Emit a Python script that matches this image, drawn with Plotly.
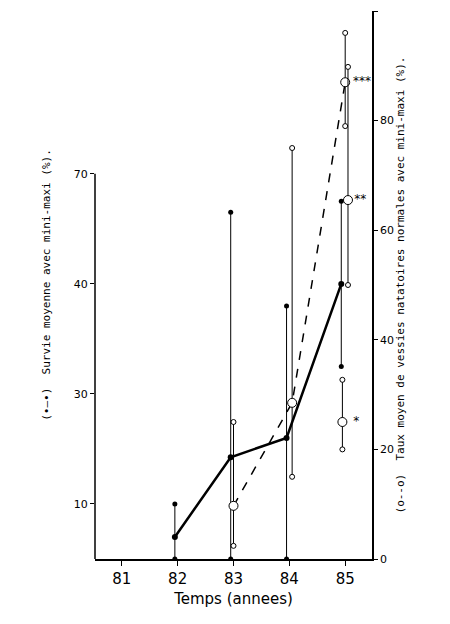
import plotly.graph_objects as go

# survival (left axis, filled points)
surv_x = [81.95, 82.95, 83.95, 84.93]
surv_mean = [4, 18.5, 22, 50]
surv_min = [0, 0, 0, 35]
surv_max = [10, 63, 46, 65]

# normal swim bladders (right axis, open points)
vess_x = [83.0, 84.05, 85.0]
vess_mean = [9.7, 28.5, 87]
vess_min = [2.4, 15, 79]
vess_max = [25, 75, 96]
# extra 85 groups
extra_x = [85.05, 84.95]
extra_mean = [65.5, 25]
extra_min = [50, 20]
extra_max = [89.8, 32.7]
extra_stars = ['**', '*']

x_ticks = [81, 82, 83, 84, 85]
left_ticks = [10, 30, 50, 70]
left_labels = ['10', '30', '40', '70']
right_ticks = [0, 20, 40, 60, 80, 100]

fig = go.Figure()
fig.add_trace(go.Scatter(
    x=surv_x, y=surv_mean, mode='lines+markers',
    line=dict(color='black', width=2.5),
    marker=dict(color='black', size=6),
    error_y=dict(type='data', symmetric=False,
                 array=[a - m for a, m in zip(surv_max, surv_mean)],
                 arrayminus=[m - b for m, b in zip(surv_mean, surv_min)],
                 color='black', thickness=1, width=0),
))
fig.add_trace(go.Scatter(
    x=surv_x + surv_x, y=surv_min + surv_max, mode='markers',
    marker=dict(color='black', size=5),
))
fig.add_trace(go.Scatter(
    x=vess_x, y=vess_mean, mode='lines+markers', yaxis='y2',
    line=dict(color='black', width=1.5, dash='dash'),
    marker=dict(color='white', size=9, line=dict(color='black', width=1)),
    error_y=dict(type='data', symmetric=False,
                 array=[a - m for a, m in zip(vess_max, vess_mean)],
                 arrayminus=[m - b for m, b in zip(vess_mean, vess_min)],
                 color='black', thickness=1, width=0),
))
fig.add_trace(go.Scatter(
    x=extra_x, y=extra_mean, mode='markers', yaxis='y2',
    marker=dict(color='white', size=9, line=dict(color='black', width=1)),
    error_y=dict(type='data', symmetric=False,
                 array=[a - m for a, m in zip(extra_max, extra_mean)],
                 arrayminus=[m - b for m, b in zip(extra_mean, extra_min)],
                 color='black', thickness=1, width=0),
))
cap_x = vess_x + vess_x + extra_x + extra_x
cap_y = vess_min + vess_max + extra_min + extra_max
fig.add_trace(go.Scatter(
    x=cap_x, y=cap_y, mode='markers', yaxis='y2',
    marker=dict(color='white', size=5, line=dict(color='black', width=1)),
))
fig.add_trace(go.Scatter(
    x=[85.3, 85.27, 85.2], y=[87, 65.5, 25], mode='text', yaxis='y2',
    text=['***'] + extra_stars, textfont=dict(size=12, color='black'),
))

fig.add_shape(type='line', xref='paper', yref='y', x0=0, x1=0, y0=0, y1=70,
              line=dict(color='black', width=1.5))

mono = 'DejaVu Sans Mono'
fig.update_layout(
    width=450, height=624, showlegend=False,
    paper_bgcolor='white', plot_bgcolor='white',
    margin=dict(l=87, r=86, t=3, b=73),
    font=dict(family='DejaVu Sans', color='black'),
    xaxis=dict(range=[80.52, 85.48], tickvals=x_ticks, showgrid=False,
               showline=True, linecolor='black', linewidth=2,
               ticks='outside', ticklen=5, tickcolor='black',
               tickfont=dict(size=15), zeroline=False,
               title=dict(text='Temps (annees)', font=dict(size=15), standoff=6)),
    yaxis=dict(range=[0, 99.6], tickvals=left_ticks, ticktext=left_labels,
               showgrid=False, showline=False, zeroline=False,
               ticks='outside', ticklen=4, tickcolor='black',
               tickfont=dict(size=11),
               title=dict(text='(•—•)  Survie moyenne avec mini-maxi (%).',
                          font=dict(family=mono, size=11), standoff=20)),
    yaxis2=dict(range=[0, 100], overlaying='y', side='right',
                tickvals=right_ticks, showgrid=False, zeroline=False,
                showline=True, linecolor='black', linewidth=1.5,
                ticks='outside', ticklen=4, tickcolor='black',
                tickfont=dict(size=11),
                title=dict(text='(o--o)  Taux moyen de vessies natatoires normales avec mini-maxi (%).',
                           font=dict(family=mono, size=11), standoff=2)),
)

fig.write_html('out.html')
